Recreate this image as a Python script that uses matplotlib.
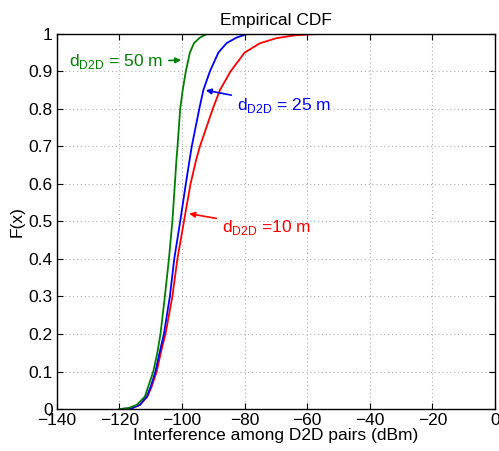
import matplotlib
matplotlib.use("Agg")
import matplotlib.pyplot as plt

plt.rcParams['font.family'] = ['Liberation Sans', 'DejaVu Sans']
plt.rcParams['mathtext.fontset'] = 'custom'
plt.rcParams['mathtext.rm'] = 'Liberation Sans'

# empirical CDF points (interference in dBm, F(x))
x_50 = [-120, -117.3, -114.5, -111.9, -110.8, -109.2, -107.9, -106.9, -105.5, -104.2,
        -103.1, -102.3, -101.8, -101.45, -100.6, -99.8, -98.8, -97.5, -96.2, -94.3,
        -92.2, -90.0]
f_50 = [0, 0.002, 0.011, 0.033, 0.06, 0.1, 0.15, 0.2, 0.3, 0.4,
        0.5, 0.6, 0.664, 0.7, 0.8, 0.85, 0.9, 0.95, 0.975, 0.99,
        0.999, 1.0]

x_25 = [-120, -116.1, -113.5, -111.3, -110.0, -108.5, -107.2, -105.8, -103.9, -102.5,
        -100.6, -98.8, -97.6, -96.9, -94.5, -93.2, -91.1, -88.4, -85.8, -82.6,
        -79.4, -77.0]
f_25 = [0, 0.002, 0.011, 0.033, 0.06, 0.1, 0.15, 0.2, 0.3, 0.4,
        0.5, 0.6, 0.664, 0.7, 0.8, 0.85, 0.9, 0.95, 0.975, 0.99,
        0.999, 1.0]

x_10 = [-120, -116.1, -113.5, -111.1, -109.7, -108.1, -106.8, -105.3, -103.1, -101.5,
        -99.4, -97.3, -95.5, -94.3, -90.2, -87.9, -84.5, -80.0, -75.1, -69.8,
        -64.0, -58.0, -50.0, -28.8]
f_10 = [0, 0.002, 0.011, 0.033, 0.06, 0.1, 0.15, 0.2, 0.3, 0.4,
        0.5, 0.6, 0.664, 0.7, 0.8, 0.85, 0.9, 0.95, 0.975, 0.9885,
        0.996, 0.999, 1.0, 1.0]

x_ticks = [-140, -120, -100, -80, -60, -40, -20, 0]
y_ticks = [0, 0.1, 0.2, 0.3, 0.4, 0.5, 0.6, 0.7, 0.8, 0.9, 1]

fig = plt.figure(figsize=(4.99, 4.51), dpi=100)
ax = fig.add_axes([0.114, 0.093, 0.878, 0.832])

ax.plot(x_10, f_10, color='red', lw=1.3)
ax.plot(x_25, f_25, color='blue', lw=1.3)
ax.plot(x_50, f_50, color='green', lw=1.3)

ax.set_xlim(-140, 0)
ax.set_ylim(0, 1)
ax.set_xticks(x_ticks)
ax.set_yticks(y_ticks)
ax.set_yticklabels(['0', '0.1', '0.2', '0.3', '0.4', '0.5', '0.6', '0.7', '0.8', '0.9', '1'])
ax.set_xticklabels(['\u2212140', '\u2212120', '\u2212100', '\u221280', '\u221260',
                    '\u221240', '\u221220', '0'])
ax.tick_params(direction='in', top=True, right=True, labelsize=12.5, length=4, pad=3)
ax.grid(True, linestyle=(0, (1, 2.5)), color='#b0b0b0', lw=0.8)
for s in ax.spines.values():
    s.set_linewidth(1.0)

ax.set_title('Empirical CDF', fontsize=12.5, pad=6)
ax.set_xlabel('Interference among D2D pairs (dBm)', fontsize=12.5, labelpad=0)
ax.set_ylabel('F(x)', fontsize=12.5, labelpad=3)

arrow = dict(arrowstyle='-|>', lw=1.2, mutation_scale=8)
ax.annotate(r'd$_{\mathrm{D2D}}$ = 50 m', xy=(-99.4, 0.93), xytext=(-106.0, 0.925),
            ha='right', va='center', fontsize=12.5, color='green',
            arrowprops=dict(color='green', **arrow))
ax.annotate(r'd$_{\mathrm{D2D}}$ = 25 m', xy=(-93.3, 0.851), xytext=(-82.5, 0.81),
            ha='left', va='center', fontsize=12.5, color='blue',
            arrowprops=dict(color='blue', **arrow))
ax.annotate(r'd$_{\mathrm{D2D}}$ =10 m', xy=(-98.6, 0.522), xytext=(-87.3, 0.485),
            ha='left', va='center', fontsize=12.5, color='red',
            arrowprops=dict(color='red', **arrow))

fig.savefig('out.png', dpi=100)
